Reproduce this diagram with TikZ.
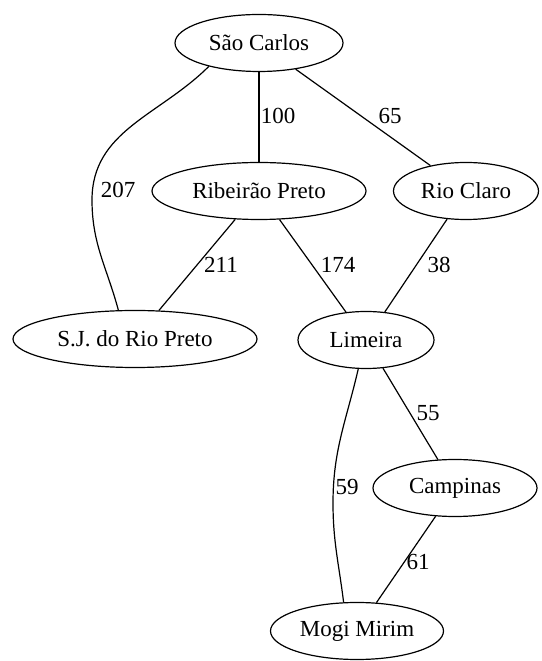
\documentclass[tikz,border=0pt]{standalone}
\usepackage{fontspec}
\setmainfont{Liberation Serif}
\usepackage{tikz}
\usetikzlibrary{shapes.geometric}

\begin{document}
\begin{tikzpicture}[x=1pt, y=1pt, line width=1.2pt,
    font=\fontsize{23}{27}\selectfont,
    city/.style={draw, ellipse, minimum height=57pt, inner sep=0pt},
    dist/.style={inner sep=0pt}]
    % 画布范围
    \useasboundingbox (0,0) rectangle (541,661);

    % 城市节点
    \node[city, minimum width=168pt] (sc) at (259,618) {São Carlos};
    \node[city, minimum width=214pt] (rp) at (259,470) {Ribeirão Preto};
    \node[city, minimum width=145pt] (rc) at (466,470) {Rio Claro};
    \node[city, minimum width=244pt] (sj) at (135,322) {S.J. do Rio Preto};
    \node[city, minimum width=136pt] (li) at (366,321) {Limeira};
    \node[city, minimum width=164pt] (ca) at (455,173) {Campinas};
    \node[city, minimum width=173pt] (mm) at (357,30) {Mogi Mirim};

    % 长边经过的拐点
    \coordinate (k207) at (92,461);
    \coordinate (k59) at (333,158);

    % 道路
    \draw (sc) -- (rp);
    \draw (sc) -- (rc);
    \draw (sc.205) to[out=225, in=90] (k207) to[out=-90, in=105] (sj.120);
    \draw (rp) -- (sj);
    \draw (rp) -- (li);
    \draw (rc) -- (li);
    \draw (li) -- (ca);
    \draw (li.255) to[out=257, in=90] (k59) to[out=-90, in=97] (mm.115);
    \draw (ca) -- (mm);

    % 距离标注
    \node[dist] (d100) at (278,545) {100};
    \node[dist] (d65) at (390,545) {65};
    \node[dist] (d207) at (118,471) {207};
    \node[dist] (d211) at (221,396) {211};
    \node[dist] (d174) at (338,396) {174};
    \node[dist] (d38) at (439,396) {38};
    \node[dist] (d55) at (428,248) {55};
    \node[dist] (d59) at (347,174) {59};
    \node[dist] (d61) at (418,99) {61};
\end{tikzpicture}
\end{document}
